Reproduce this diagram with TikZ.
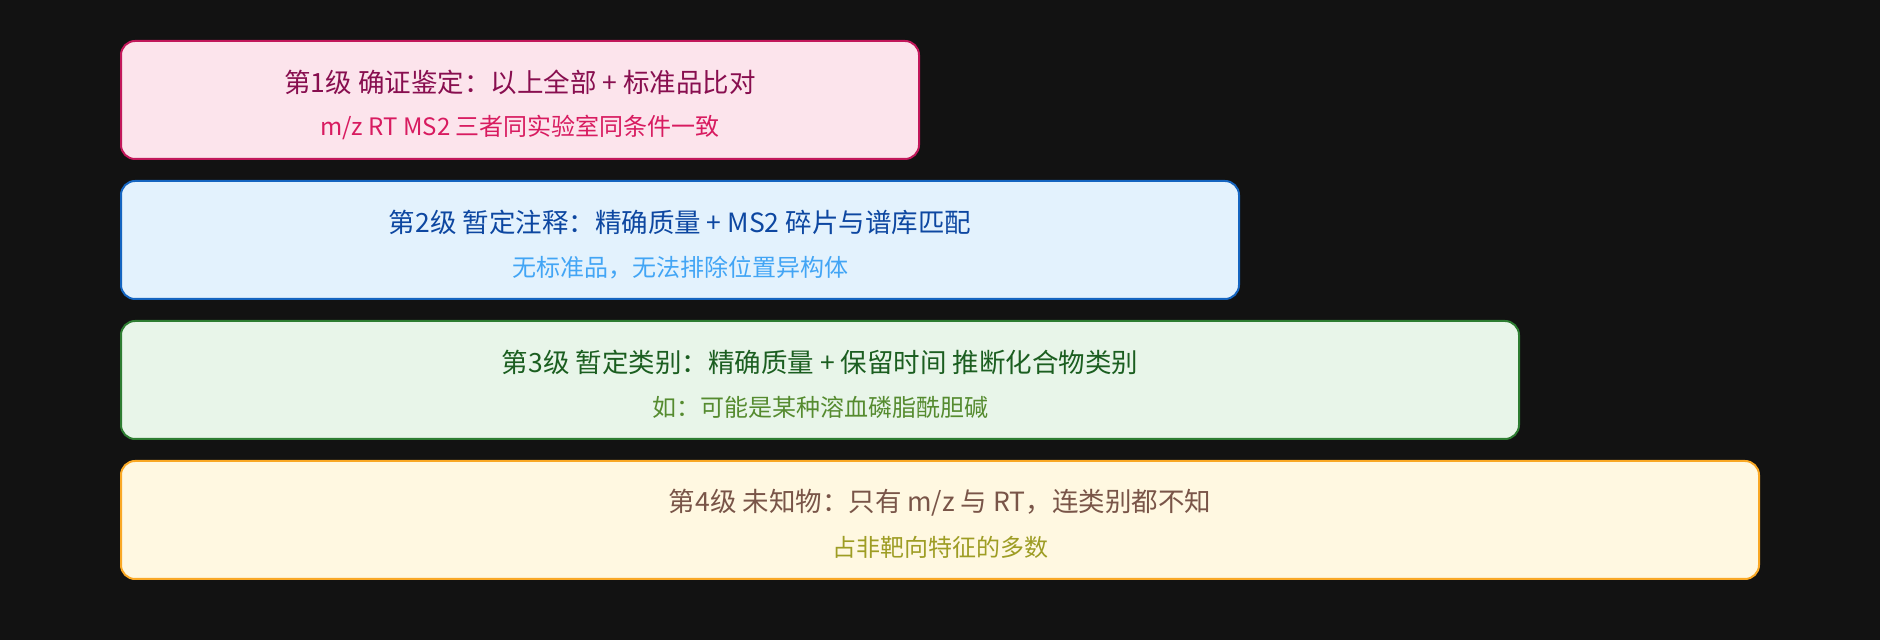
\documentclass[tikz,border=0pt]{standalone}
\usepackage{fontspec}
\setmainfont{Noto Sans CJK SC}
\definecolor{bg}{HTML}{121212}
\definecolor{fA}{HTML}{FCE4EC}\definecolor{dA}{HTML}{C2185B}\definecolor{tA}{HTML}{880E4F}\definecolor{sA}{HTML}{D81B60}
\definecolor{fB}{HTML}{E3F2FD}\definecolor{dB}{HTML}{1565C0}\definecolor{tB}{HTML}{0D47A1}\definecolor{sB}{HTML}{42A5F5}
\definecolor{fC}{HTML}{E8F5E9}\definecolor{dC}{HTML}{2E7D32}\definecolor{tC}{HTML}{1B5E20}\definecolor{sC}{HTML}{558B2F}
\definecolor{fD}{HTML}{FFF8E1}\definecolor{dD}{HTML}{F9A825}\definecolor{tD}{HTML}{795548}\definecolor{sD}{HTML}{9E9D24}
\tikzset{
  levelbox/.style={draw, line width=2pt, rounded corners=14pt, minimum height=118pt, inner sep=0pt},
  titletext/.style={inner sep=0pt, font=\fontsize{26.5}{30}\selectfont},
  subtext/.style={inner sep=0pt, font=\fontsize{24}{28}\selectfont},
}
\begin{document}
\begin{tikzpicture}[x=1pt,y=1pt]
\fill[bg] (0,0) rectangle (1880,640);
\useasboundingbox (0,0) rectangle (1880,640);
\node[levelbox, fill=fA, draw=dA, minimum width=798pt] (b1) at (520,540) {};
\node[levelbox, fill=fB, draw=dB, minimum width=1118pt] (b2) at (680,400) {};
\node[levelbox, fill=fC, draw=dC, minimum width=1398pt] (b3) at (820,260) {};
\node[levelbox, fill=fD, draw=dD, minimum width=1638pt] (b4) at (940,120) {};
\node[titletext, text=tA] (t1) at ([yshift=17.5pt]b1.center) {第1级 确证鉴定：以上全部 + 标准品比对};
\node[subtext, text=sA] (s1) at ([yshift=-27.5pt]b1.center) {m/z RT MS2 三者同实验室同条件一致};
\node[titletext, text=tB] (t2) at ([yshift=17.5pt]b2.center) {第2级 暂定注释：精确质量 + MS2 碎片与谱库匹配};
\node[subtext, text=sB] (s2) at ([yshift=-27.5pt]b2.center) {无标准品，无法排除位置异构体};
\node[titletext, text=tC] (t3) at ([yshift=17.5pt]b3.center) {第3级 暂定类别：精确质量 + 保留时间 推断化合物类别};
\node[subtext, text=sC] (s3) at ([yshift=-27.5pt]b3.center) {如：可能是某种溶血磷脂酰胆碱};
\node[titletext, text=tD] (t4) at ([yshift=17.5pt]b4.center) {第4级 未知物：只有 m/z 与 RT，连类别都不知};
\node[subtext, text=sD] (s4) at ([yshift=-27.5pt]b4.center) {占非靶向特征的多数};
\end{tikzpicture}
\end{document}
